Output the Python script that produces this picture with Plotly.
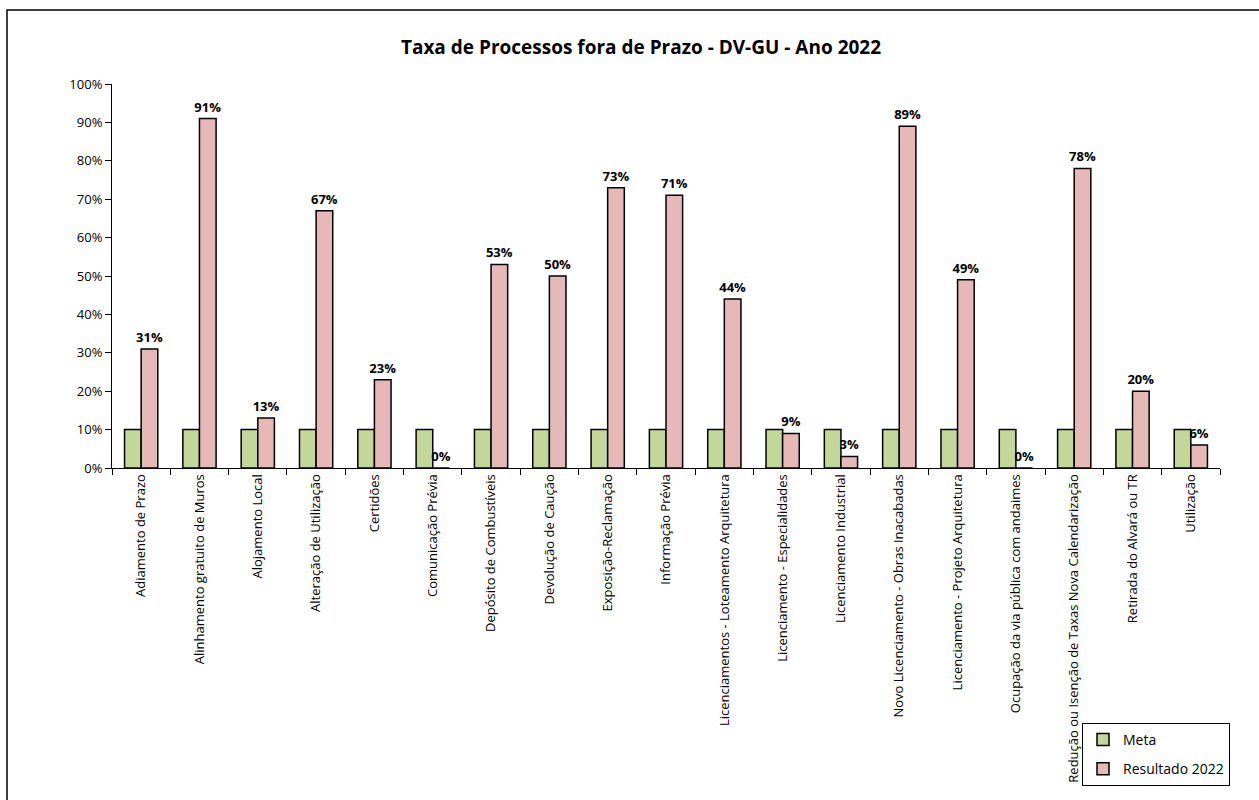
import plotly.graph_objects as go

# Categorias (tipos de processo)
categorias = [
    "Adiamento de Prazo",
    "Alinhamento gratuito de Muros",
    "Alojamento Local",
    "Alteração de Utilização",
    "Certidões",
    "Comunicação Prévia",
    "Depósito de Combustíveis",
    "Devolução de Caução",
    "Exposição-Reclamação",
    "Informação Prévia",
    "Licenciamentos - Loteamento Arquitetura",
    "Licenciamento - Especialidades",
    "Licenciamento Industrial",
    "Novo Licenciamento - Obras Inacabadas",
    "Licenciamento - Projeto Arquitetura",
    "Ocupação da via pública com andaimes",
    "Redução ou Isenção de Taxas Nova Calendarização",
    "Retirada do Alvará ou TR",
    "Utilização",
]

# Meta (fração)
meta = [0.10] * 19

# Resultado 2022 (fração)
resultado_2022 = [0.31, 0.91, 0.13, 0.67, 0.23, 0.00, 0.53, 0.50, 0.73, 0.71,
                  0.44, 0.09, 0.03, 0.89, 0.49, 0.00, 0.78, 0.20, 0.06]

y_ticks = [0, 0.1, 0.2, 0.3, 0.4, 0.5, 0.6, 0.7, 0.8, 0.9, 1.0]
y_tick_text = ["0%", "10%", "20%", "30%", "40%", "50%", "60%", "70%", "80%", "90%", "100%"]

FONT = "'Open Sans', Lato, sans-serif"

W, H = 1259, 800
L, R, T, B = 112, 39, 84, 332
pw, ph = W - L - R, H - T - B


def px(x):
    return (x - L) / pw


def py(y):
    return (H - B - y) / ph


fig = go.Figure()
fig.add_trace(go.Bar(
    name="Meta", x=categorias, y=meta, legendgroup="meta",
    marker=dict(color="#C4D79B", line=dict(color="black", width=1.5)),
))
fig.add_trace(go.Bar(
    name="Resultado 2022", x=categorias, y=resultado_2022, legendgroup="res",
    marker=dict(color="#E6B9B8", line=dict(color="black", width=1.5)),
    text=[f"<b>{round(v * 100)}%</b>" for v in resultado_2022],
    textposition="outside", cliponaxis=False, constraintext="none",
    textfont=dict(family=FONT, size=13, color="black"),
))

fig.update_layout(
    width=W, height=H,
    margin=dict(l=L, r=R, t=T, b=B),
    paper_bgcolor="white", plot_bgcolor="white",
    barmode="group", bargap=0.43, bargroupgap=0,
    font=dict(family=FONT, size=13, color="black"),
    title=dict(
        text="<b>Taxa de Processos fora de Prazo - DV-GU - Ano 2022</b>",
        x=px(641), xref="paper", xanchor="center",
        y=1 - 47 / H, yanchor="middle",
        font=dict(family=FONT, size=19, color="black"),
    ),
    xaxis=dict(
        tickangle=-90, tickson="boundaries", ticks="outside", ticklen=6,
        tickcolor="black", showline=True, linecolor="black", linewidth=1,
        tickfont=dict(family=FONT, size=13), showgrid=False,
    ),
    yaxis=dict(
        range=[0, 1.0], tickvals=y_ticks, ticktext=y_tick_text,
        ticks="outside", ticklen=6, tickcolor="black",
        showline=True, linecolor="black", linewidth=1, showgrid=False,
        zeroline=False, tickfont=dict(family=FONT, size=13),
    ),
    legend=dict(
        x=px(1082), y=py(723), xanchor="left", yanchor="top",
        bordercolor="black", borderwidth=1, bgcolor="white",
        font=dict(family=FONT, size=14), itemwidth=30,
        tracegroupgap=8,
    ),
    showlegend=True,
)

# Moldura da área do gráfico
fig.add_shape(
    type="rect", xref="paper", yref="paper",
    x0=px(7), x1=px(1266), y0=py(10), y1=py(808),
    line=dict(color="black", width=1.5), fillcolor="rgba(0,0,0,0)", layer="below",
)

fig.write_html("out.html")
